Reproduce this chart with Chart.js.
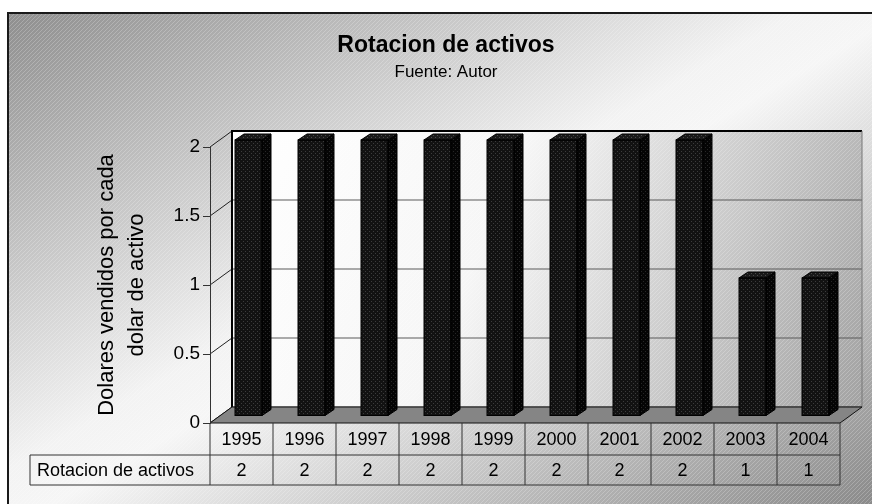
<!DOCTYPE html>
<html lang="es">
<head>
<meta charset="utf-8">
<title>Rotacion de activos</title>
<script src="https://cdn.jsdelivr.net/npm/chart.js@4.4.0/dist/chart.umd.min.js"></script>
<style>
  html, body { margin: 0; padding: 0; background: #fff; }
  #wrap { width: 872px; height: 504px; }
</style>
</head>
<body>
<div id="wrap"><canvas id="mainChart" width="872" height="504"></canvas></div>
<script>
const years = ["1995", "1996", "1997", "1998", "1999", "2000", "2001", "2002", "2003", "2004"];
const rotacion = [2, 2, 2, 2, 2, 2, 2, 2, 1, 1];
const yTicks = [0, 0.5, 1, 1.5, 2];
const seriesName = "Rotacion de activos";
const chartTitle = "Rotacion de activos";
const chartSubtitle = "Fuente: Autor";
const yTitle = ["Dolares vendidos por cada", "dolar de activo"];

const FONT = "'Liberation Sans', Arial, sans-serif";
const WALL = { x: 22, y: -16 };     // profundidad de la pared del fondo
const BAR_SHIFT = { x: 7, y: -7 };  // cara frontal de las barras
const BAR_DEPTH = { x: 9, y: -6 };  // lado y tapa de las barras

function makePattern(base, dot) {
  const c = document.createElement("canvas");
  c.width = 4;
  c.height = 4;
  const g = c.getContext("2d");
  g.fillStyle = base;
  g.fillRect(0, 0, 4, 4);
  g.fillStyle = dot;
  g.fillRect(0, 0, 1, 1);
  g.fillRect(2, 2, 1, 1);
  return g.createPattern(c, "repeat");
}

function makeHatch() {
  const c = document.createElement("canvas");
  c.width = 4;
  c.height = 4;
  const g = c.getContext("2d");
  g.fillStyle = "rgba(255,255,255,0.22)";
  for (let i = 0; i < 4; i++) g.fillRect(3 - i, i, 1, 1);
  return g.createPattern(c, "repeat");
}

const frontPattern = makePattern("#121212", "#3c3c3c");
const sidePattern = makePattern("#050505", "#262626");
const topPattern = makePattern("#1a1a1a", "#4a4a4a");
const hatch = makeHatch();

// fondo, paredes, piso y titulos
const wallPlugin = {
  id: "wall",
  beforeDraw(chart) {
    const { ctx, chartArea: a } = chart;
    const y = chart.scales.y;
    ctx.save();
    ctx.fillStyle = "#fff";
    ctx.fillRect(0, 0, chart.width, chart.height);

    const bg = ctx.createLinearGradient(0, 0, 437, 756);
    bg.addColorStop(0, "#8a8a8a");
    bg.addColorStop(0.47, "#f3f3f3");
    bg.addColorStop(0.53, "#f6f6f6");
    bg.addColorStop(1, "#8a8a8a");
    ctx.fillStyle = bg;
    ctx.fillRect(7, 12, chart.width - 7, chart.height - 12);

    // pared del fondo
    const bl = a.left + WALL.x, br = a.right + WALL.x;
    const bt = a.top + WALL.y, bb = a.bottom + WALL.y;
    const wg = ctx.createLinearGradient(bl, bt, br, bb);
    wg.addColorStop(0, "#ffffff");
    wg.addColorStop(0.4, "#f6f6f6");
    wg.addColorStop(1, "#a2a2a2");
    ctx.fillStyle = wg;
    ctx.fillRect(bl, bt, br - bl, bb - bt);

    ctx.fillStyle = hatch;
    ctx.fillRect(7, 12, chart.width - 7, chart.height - 12);

    // lineas de division en la pared y en el costado
    yTicks.forEach((v) => {
      const py = y.getPixelForValue(v);
      ctx.strokeStyle = "#5a5a5a";
      ctx.lineWidth = 1.2;
      ctx.beginPath();
      ctx.moveTo(bl, py + WALL.y);
      ctx.lineTo(br, py + WALL.y);
      ctx.stroke();
      ctx.strokeStyle = "#222";
      ctx.lineWidth = 1;
      ctx.beginPath();
      ctx.moveTo(a.left, py);
      ctx.lineTo(bl, py + WALL.y);
      ctx.stroke();
    });
    ctx.strokeStyle = "#000";
    ctx.lineWidth = 2;
    ctx.beginPath();
    ctx.moveTo(bl, bb);
    ctx.lineTo(bl, bt);
    ctx.lineTo(br, bt);
    ctx.stroke();
    ctx.strokeStyle = "#777";
    ctx.lineWidth = 1;
    ctx.beginPath();
    ctx.moveTo(br, bt);
    ctx.lineTo(br, bb);
    ctx.stroke();

    // piso
    ctx.fillStyle = "#858585";
    ctx.strokeStyle = "#111";
    ctx.beginPath();
    ctx.moveTo(a.left, a.bottom);
    ctx.lineTo(a.right, a.bottom);
    ctx.lineTo(br, bb);
    ctx.lineTo(bl, bb);
    ctx.closePath();
    ctx.fill();
    ctx.stroke();

    // borde exterior
    ctx.strokeStyle = "#1a1a1a";
    ctx.lineWidth = 2;
    ctx.beginPath();
    ctx.moveTo(8, chart.height);
    ctx.lineTo(8, 13);
    ctx.lineTo(chart.width, 13);
    ctx.stroke();

    // titulos
    ctx.fillStyle = "#000";
    ctx.textAlign = "center";
    ctx.textBaseline = "alphabetic";
    ctx.font = "bold 23px " + FONT;
    ctx.fillText(chartTitle, 446, 52);
    ctx.font = "17px " + FONT;
    ctx.fillText(chartSubtitle, 446, 77);
    ctx.restore();
  },
};

// efecto 3D de las barras
const barDepthPlugin = {
  id: "barDepth",
  beforeDatasetsDraw(chart) {
    chart.ctx.save();
    chart.ctx.translate(BAR_SHIFT.x, BAR_SHIFT.y);
  },
  afterDatasetsDraw(chart) {
    const ctx = chart.ctx;
    const meta = chart.getDatasetMeta(0);
    meta.data.forEach((bar) => {
      const { x, y, base, width } = bar.getProps(["x", "y", "base", "width"], true);
      const l = x - width / 2;
      const r = x + width / 2;
      ctx.strokeStyle = "#000";
      ctx.lineWidth = 1;

      ctx.fillStyle = sidePattern;
      ctx.beginPath();
      ctx.moveTo(r, y);
      ctx.lineTo(r + BAR_DEPTH.x, y + BAR_DEPTH.y);
      ctx.lineTo(r + BAR_DEPTH.x, base + BAR_DEPTH.y);
      ctx.lineTo(r, base);
      ctx.closePath();
      ctx.fill();
      ctx.stroke();

      ctx.fillStyle = topPattern;
      ctx.beginPath();
      ctx.moveTo(l, y);
      ctx.lineTo(l + BAR_DEPTH.x, y + BAR_DEPTH.y);
      ctx.lineTo(r + BAR_DEPTH.x, y + BAR_DEPTH.y);
      ctx.lineTo(r, y);
      ctx.closePath();
      ctx.fill();
      ctx.stroke();

      ctx.strokeRect(l, y, width, base - y);
    });
    ctx.restore();
  },
};

// tabla de datos bajo el grafico
const tablePlugin = {
  id: "dataTable",
  afterDraw(chart) {
    const { ctx, chartArea: a } = chart;
    const x = chart.scales.x;
    const step = (a.right - a.left) / years.length;
    const top = a.bottom;
    const mid = top + 32;
    const bottom = mid + 30;
    const labelLeft = 30;

    ctx.save();
    ctx.strokeStyle = "#333";
    ctx.lineWidth = 1;
    ctx.beginPath();
    ctx.moveTo(labelLeft, mid);
    ctx.lineTo(a.right, mid);
    ctx.moveTo(labelLeft, bottom);
    ctx.lineTo(a.right, bottom);
    ctx.moveTo(labelLeft, mid);
    ctx.lineTo(labelLeft, bottom);
    for (let i = 0; i <= years.length; i++) {
      const px = a.left + i * step;
      ctx.moveTo(px, top);
      ctx.lineTo(px, bottom);
    }
    ctx.stroke();

    ctx.fillStyle = "#000";
    ctx.font = "18px " + FONT;
    ctx.textBaseline = "middle";
    ctx.textAlign = "center";
    years.forEach((yr, i) => {
      const cx = x.getPixelForValue(i);
      ctx.fillText(yr, cx, (top + mid) / 2 + 1);
      ctx.fillText(String(rotacion[i]), cx, (mid + bottom) / 2 + 1);
    });
    ctx.textAlign = "left";
    ctx.fillText(seriesName, 37, (mid + bottom) / 2 + 1);
    ctx.restore();
  },
};

function initChart() {
  const ctx = document.getElementById("mainChart").getContext("2d");
  return new Chart(ctx, {
    type: "bar",
    data: {
      labels: years,
      datasets: [
        {
          label: seriesName,
          data: rotacion,
          backgroundColor: frontPattern,
          borderWidth: 0,
          barPercentage: 27 / 63,
          categoryPercentage: 1,
          clip: false,
        },
      ],
    },
    options: {
      responsive: false,
      animation: false,
      layout: { padding: { left: 60, right: 32, top: 147, bottom: 81 } },
      plugins: {
        legend: { display: false },
        tooltip: { enabled: false },
      },
      scales: {
        x: { display: false },
        y: {
          min: 0,
          max: 2,
          afterFit: (scale) => {
            scale.width = 150;
          },
          ticks: {
            stepSize: 0.5,
            color: "#000",
            padding: 3,
            font: { family: FONT, size: 19 },
            callback: (value) => String(Number(value)),
          },
          grid: {
            drawOnChartArea: false,
            drawTicks: true,
            tickLength: 7,
            color: "#333",
          },
          border: { display: true, color: "#333", width: 1 },
          title: {
            display: true,
            text: yTitle,
            color: "#000",
            padding: { top: 32, bottom: 0 },
            font: { family: FONT, size: 22, lineHeight: 30 / 22 },
          },
        },
      },
    },
    plugins: [wallPlugin, barDepthPlugin, tablePlugin],
  });
}

document.addEventListener("DOMContentLoaded", () => {
  initChart();
});
</script>
</body>
</html>
